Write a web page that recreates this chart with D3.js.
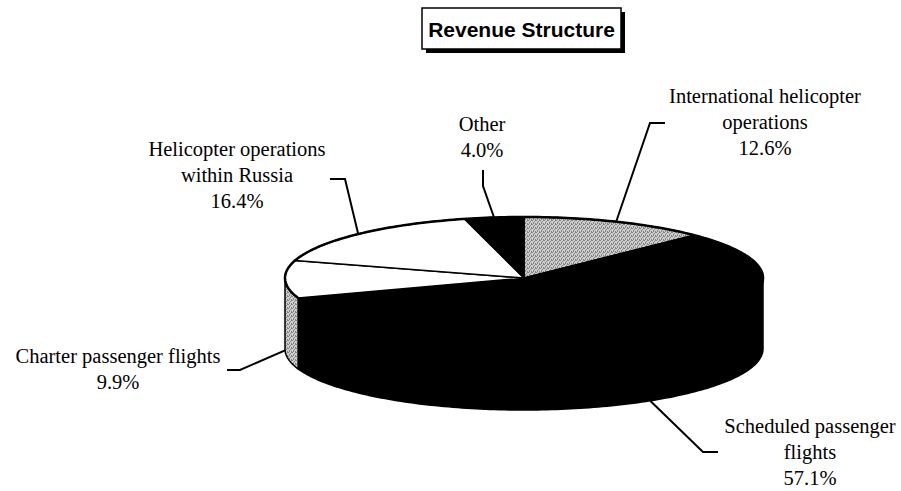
<!DOCTYPE html>
<html>
<head>
<meta charset="utf-8">
<script src="https://cdn.jsdelivr.net/npm/d3@7"></script>
<style>
  html, body { margin: 0; padding: 0; background: #fff; }
  svg { display: block; }
</style>
</head>
<body>
<script>
// ---- data ----
const title = "Revenue Structure";
const categories = [
  "International helicopter operations",
  "Scheduled passenger flights",
  "Charter passenger flights",
  "Helicopter operations within Russia",
  "Other"
];
const values = [12.6, 57.1, 9.9, 16.4, 4.0];
const labelLines = [
  ["International helicopter", "operations"],
  ["Scheduled passenger", "flights"],
  ["Charter passenger flights"],
  ["Helicopter operations", "within Russia"],
  ["Other"]
];

// ---- styles (kept apart from data) ----
const topFills  = ["url(#stip)", "#000", "#fff", "#fff", "#000"];
const sideFills = ["url(#stip)", "#000", "url(#stip)", "#fff", "#000"];

// ---- layout ----
const W = 901, H = 491;
const geo = { cx: 524, cy: 278, rx: 239, ry: 61, depth: 71 };
const lineGap = 26;
// label anchor (center x, first baseline y) and leader elbow/end points
const labelLayout = [
  { x: 765, y: 103, elbow: [650, 123], tail: [665, 123] },
  { x: 810, y: 433, elbow: [703, 452], tail: [718, 452] },
  { x: 118, y: 363, elbow: [240, 370], tail: [227, 370] },
  { x: 237, y: 156, elbow: [345, 179], tail: [330, 179] },
  { x: 482, y: 131, elbow: [483, 186], tail: [483, 170] }
];

const svg = d3.select("body").append("svg")
  .attr("width", W).attr("height", H);

// stipple pattern for grey
const defs = svg.append("defs");
const pat = defs.append("pattern").attr("id", "stip")
  .attr("patternUnits", "userSpaceOnUse").attr("width", 4).attr("height", 4);
pat.append("rect").attr("width", 4).attr("height", 4).attr("fill", "#cdcdcd");
[[0,0],[2,1],[1,2],[3,3],[3,0],[1,3]].forEach(([x,y]) =>
  pat.append("rect").attr("x", x).attr("y", y).attr("width", 1).attr("height", 1).attr("fill", "#858585"));

// ---- title ----
const tb = { x: 422, y: 8, w: 199, h: 41 };
svg.append("rect").attr("x", tb.x + 4).attr("y", tb.y + 4).attr("width", tb.w).attr("height", tb.h).attr("fill", "#000");
svg.append("rect").attr("x", tb.x).attr("y", tb.y).attr("width", tb.w).attr("height", tb.h)
  .attr("fill", "#fff").attr("stroke", "#000").attr("stroke-width", 1.5);
svg.append("text").attr("x", tb.x + tb.w / 2).attr("y", tb.y + 29)
  .attr("text-anchor", "middle")
  .attr("font-family", "'Liberation Sans', Arial, sans-serif")
  .attr("font-weight", "bold").attr("font-size", 21)
  .text(title);

// ---- 3D pie ----
const pie = d3.pie().sort(null).startAngle(0).endAngle(2 * Math.PI);
const arcs = pie(values);

const xS = d3.scaleLinear().domain([-1, 1]).range([geo.cx - geo.rx, geo.cx + geo.rx]);
const yS = d3.scaleLinear().domain([-1, 1]).range([geo.cy - geo.ry, geo.cy + geo.ry]);
// angle clockwise from top -> point on top ellipse, lowered by dz
const proj = (a, dz = 0) => [xS(Math.sin(a)), yS(-Math.cos(a)) + dz];
const line = d3.line();
const sample = (a0, a1, dz) => {
  const n = Math.max(2, Math.ceil(Math.abs(a1 - a0) / 0.02));
  return d3.range(n + 1).map(i => proj(a0 + (a1 - a0) * i / n, dz));
};

const gPie = svg.append("g");
// sides (front half only: angles between PI/2 and 3PI/2)
arcs.forEach((d, i) => {
  const s = Math.max(d.startAngle, Math.PI / 2);
  const e = Math.min(d.endAngle, 3 * Math.PI / 2);
  if (e <= s) return;
  const pts = sample(s, e, 0).concat(sample(e, s, geo.depth));
  gPie.append("path").attr("d", line(pts) + "Z")
    .attr("fill", sideFills[i]).attr("stroke", "#000").attr("stroke-width", 1.5)
    .attr("stroke-linejoin", "round");
});
// tops
arcs.forEach((d, i) => {
  const pts = [[geo.cx, geo.cy]].concat(sample(d.startAngle, d.endAngle, 0));
  gPie.append("path").attr("d", line(pts) + "Z")
    .attr("fill", topFills[i]).attr("stroke", "#000").attr("stroke-width", 1.5)
    .attr("stroke-linejoin", "round");
});
// outer outline of top ellipse
gPie.append("path").attr("d", line(sample(0, 2 * Math.PI, 0)) + "Z")
  .attr("fill", "none").attr("stroke", "#000").attr("stroke-width", 2.5);

// ---- labels & leaders ----
const fmt = d3.format(".1f");
const gLab = svg.append("g")
  .attr("font-family", "'Liberation Serif', 'Times New Roman', serif")
  .attr("font-size", 20.5).attr("fill", "#000");

arcs.forEach((d, i) => {
  const L = labelLayout[i];
  const mid = (d.startAngle + d.endAngle) / 2;
  const front = Math.cos(mid) < 0 ? geo.depth : 0;
  const end = proj(mid, front);
  gLab.append("path")
    .attr("d", line([end, L.elbow, L.tail]))
    .attr("fill", "none").attr("stroke", "#000").attr("stroke-width", 2);
  const lines = labelLines[i].concat([fmt(values[i]) + "%"]);
  const t = gLab.append("text").attr("text-anchor", "middle");
  lines.forEach((s, k) => {
    t.append("tspan").attr("x", L.x).attr("y", L.y + k * lineGap).text(s);
  });
});
</script>
</body>
</html>
